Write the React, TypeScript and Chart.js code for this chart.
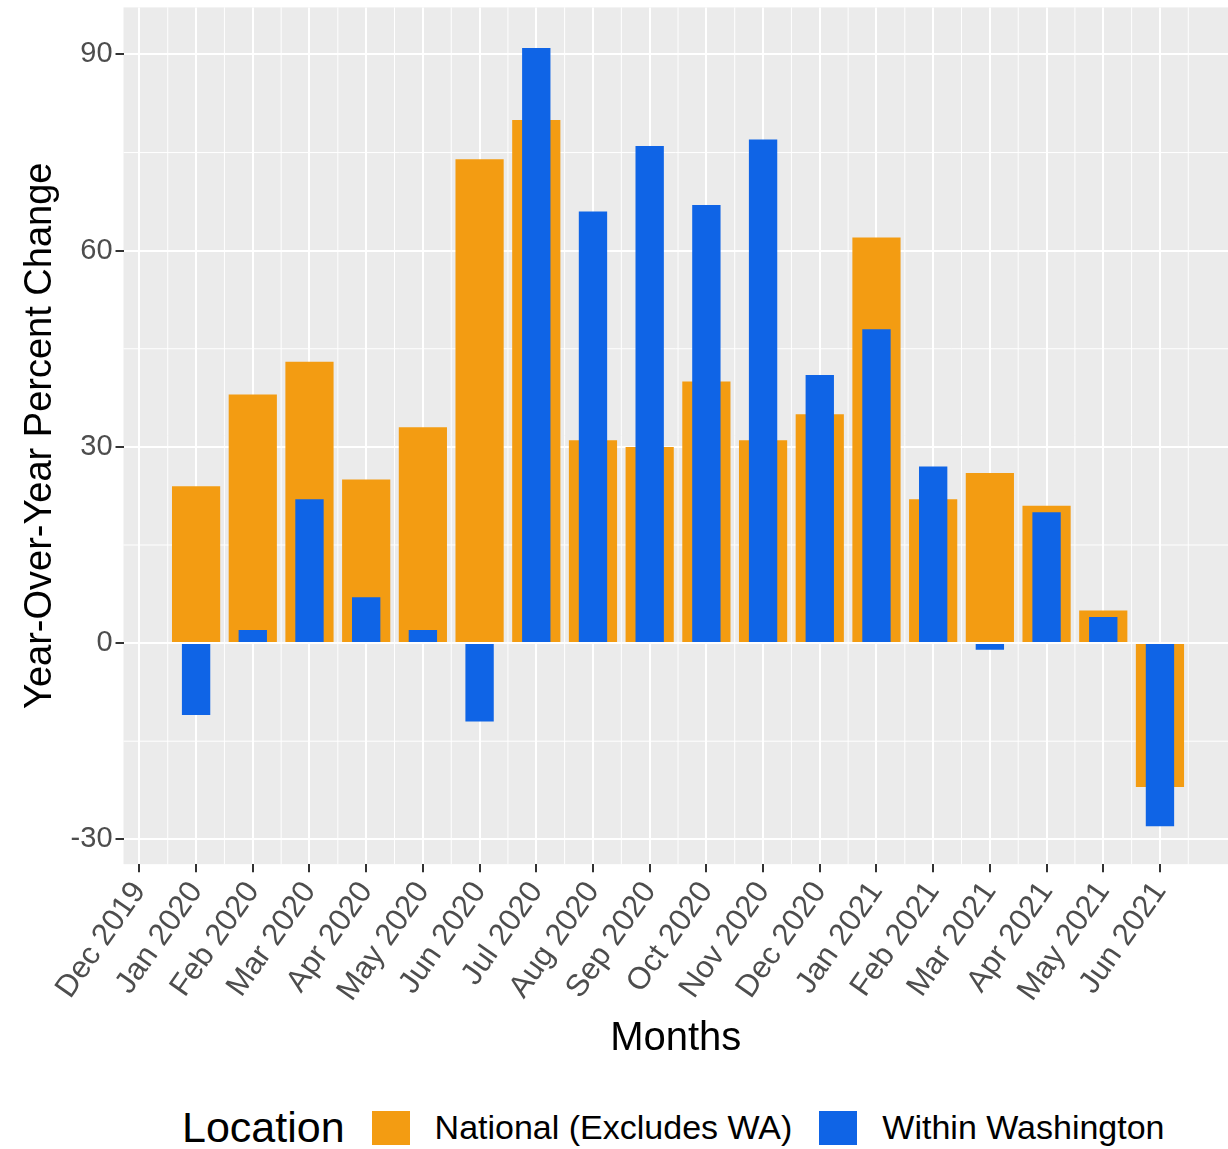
import { useEffect, useRef } from "react";
import { Chart, registerables } from "chart.js";

Chart.register(...registerables);

const months = [
  "Dec 2019", "Jan 2020", "Feb 2020", "Mar 2020", "Apr 2020", "May 2020", "Jun 2020",
  "Jul 2020", "Aug 2020", "Sep 2020", "Oct 2020", "Nov 2020", "Dec 2020", "Jan 2021",
  "Feb 2021", "Mar 2021", "Apr 2021", "May 2021", "Jun 2021",
];
// values start at Jan 2020
const national = [24, 38, 43, 25, 33, 74, 80, 31, 30, 40, 31, 35, 62, 22, 26, 21, 5, -22];
const washington = [-11, 2, 22, 7, 2, -12, 91, 66, 76, 67, 77, 41, 48, 27, -1, 20, 4, -28];
const yTicks = [-30, 0, 30, 60, 90];
const yMinor = [-15, 15, 45, 75];

const ORANGE = "#f39c12";
const BLUE = "#0f64e6";

const panelBg = {
  id: "panelBg",
  beforeDraw(chart: Chart) {
    const { ctx, chartArea: a, scales } = chart;
    ctx.save();
    ctx.fillStyle = "#ebebeb";
    ctx.fillRect(a.left, a.top, a.right - a.left, a.bottom - a.top);
    ctx.strokeStyle = "#ffffff";
    ctx.lineWidth = 1;
    ctx.beginPath();
    for (let i = 0; i < months.length; i++) {
      const px = scales.x.getPixelForValue(i + 0.5);
      if (px > a.right) continue;
      ctx.moveTo(px, a.top);
      ctx.lineTo(px, a.bottom);
    }
    for (const v of yMinor) {
      const py = scales.y.getPixelForValue(v);
      ctx.moveTo(a.left, py);
      ctx.lineTo(a.right, py);
    }
    ctx.stroke();
    ctx.restore();
  },
};

export default function App() {
  const canvasRef = useRef<HTMLCanvasElement | null>(null);

  useEffect(() => {
    document.body.style.margin = "0";
    if (!canvasRef.current) return;
    const font = "Arial, 'Liberation Sans', sans-serif";
    const chart = new Chart(canvasRef.current, {
      type: "bar",
      data: {
        datasets: [
          {
            label: "National (Excludes WA)",
            data: national.map((y, i) => ({ x: i + 1, y })),
            backgroundColor: ORANGE,
            barPercentage: 0.85,
            categoryPercentage: 1,
            grouped: false,
            order: 1,
          },
          {
            label: "Within Washington",
            data: washington.map((y, i) => ({ x: i + 1, y })),
            backgroundColor: BLUE,
            barPercentage: 0.5,
            categoryPercentage: 1,
            grouped: false,
            order: 0,
          },
        ],
      },
      options: {
        animation: false,
        responsive: false,
        layout: { padding: { left: 14, right: 0 } },
        plugins: { legend: { display: false }, tooltip: { enabled: false } },
        scales: {
          x: {
            type: "linear",
            min: -0.28,
            max: 19.2,
            offset: false,
            afterBuildTicks: (s: any) => {
              s.ticks = months.map((_, i) => ({ value: i }));
            },
            grid: { offset: false, color: "#ffffff", lineWidth: 2, tickColor: "#333333", tickLength: 8 },
            border: { display: false },
            ticks: {
              autoSkip: false,
              maxRotation: 55,
              minRotation: 55,
              color: "#4d4d4d",
              font: { size: 31, family: font },
              callback: (v: any) => months[v] ?? "",
            },
            title: { display: true, text: "Months", color: "#000", font: { size: 40, family: font }, padding: { top: 4 } },
          },
          y: {
            min: -33.8,
            max: 97.2,
            afterBuildTicks: (s: any) => {
              s.ticks = yTicks.map((value) => ({ value }));
            },
            grid: { color: "#ffffff", lineWidth: 2, tickColor: "#333333", tickLength: 8 },
            border: { display: false },
            ticks: {
              color: "#4d4d4d",
              font: { size: 29, family: font },
              callback: (v: any) => String(v),
            },
            title: { display: true, text: "Year-Over-Year Percent Change", color: "#000", font: { size: 38, family: font } },
          },
        },
      },
      plugins: [panelBg],
    });
    return () => chart.destroy();
  }, []);

  const font = "Arial, 'Liberation Sans', sans-serif";
  const sw = (c: string) => (
    <span style={{ display: "inline-block", width: 38, height: 34, background: c, margin: "0 25px 0 27px" }} />
  );
  return (
    <div style={{ width: 1228, fontFamily: font }}>
      <canvas ref={canvasRef} width={1228} height={1080} style={{ display: "block", marginTop: -13 }} />
      <div style={{ display: "flex", alignItems: "center", paddingLeft: 182, marginTop: 36, fontSize: 34 }}>
        <span style={{ fontSize: 43 }}>Location</span>
        {sw(ORANGE)}
        <span>National (Excludes WA)</span>
        {sw(BLUE)}
        <span>Within Washington</span>
      </div>
    </div>
  );
}
